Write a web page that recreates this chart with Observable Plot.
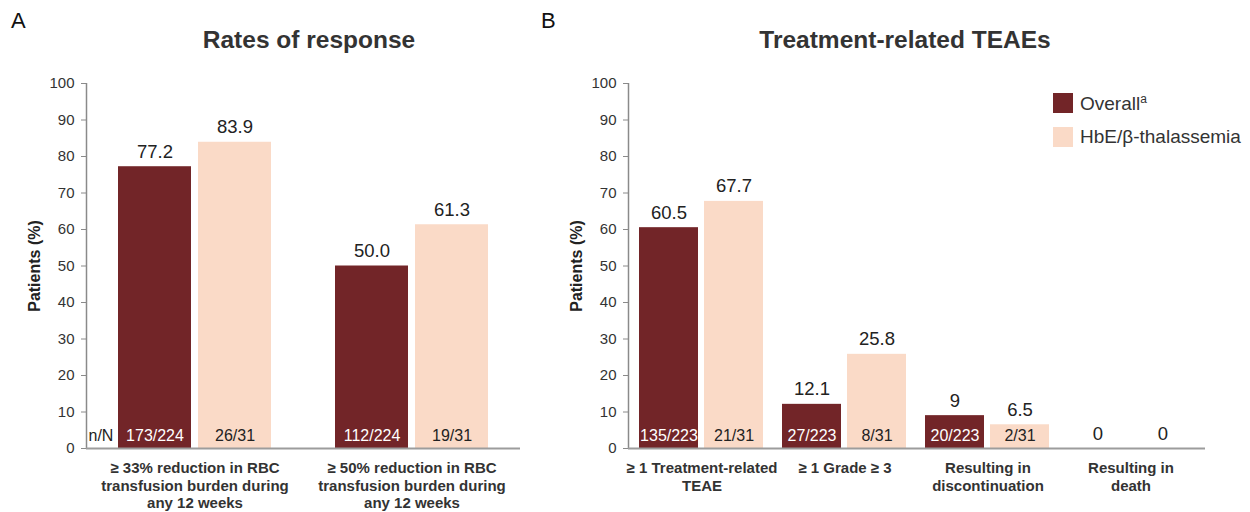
<!DOCTYPE html>
<html>
<head>
<meta charset="utf-8">
<script src="https://cdn.jsdelivr.net/npm/d3@7"></script>
<script src="https://cdn.jsdelivr.net/npm/@observablehq/plot@0.6"></script>
<style>
  html, body { margin: 0; padding: 0; background: #fff; }
  #wrap { position: relative; width: 1250px; height: 512px; overflow: hidden; font-family: "Liberation Sans", Arial, sans-serif; color: #222; }
  .abs { position: absolute; }
  .panel-letter { font-size: 22px; color: #111; }
  .title { font-size: 24.5px; font-weight: bold; color: #333; white-space: nowrap; transform: translateX(-50%); }
  .legend-item { display: flex; align-items: center; font-size: 19px; color: #333; height: 22px; }
  .swatch { width: 20px; height: 20px; margin-right: 7px; flex: none; }
  sup { font-size: 12px; vertical-align: 7px; }
</style>
</head>
<body>
<div id="wrap"></div>
<script>
// ---------- data ----------
const series = ["Overall", "HbE/β-thalassemia"];
const seriesColors = ["#722528", "#FADAC7"];

const groupsA = [
  "≥ 33% reduction in RBC\ntransfusion burden during\nany 12 weeks",
  "≥ 50% reduction in RBC\ntransfusion burden during\nany 12 weeks"
];
const overallA = [77.2, 50.0];
const hbeA = [83.9, 61.3];
const overallLabelsA = ["77.2", "50.0"];
const hbeLabelsA = ["83.9", "61.3"];
const overallNA = ["173/224", "112/224"];
const hbeNA = ["26/31", "19/31"];

const groupsB = [
  "≥ 1 Treatment-related\nTEAE",
  "≥ 1 Grade ≥ 3",
  "Resulting in\ndiscontinuation",
  "Resulting in\ndeath"
];
const overallB = [60.5, 12.1, 9, 0];
const hbeB = [67.7, 25.8, 6.5, 0];
const overallLabelsB = ["60.5", "12.1", "9", "0"];
const hbeLabelsB = ["67.7", "25.8", "6.5", "0"];
const overallNB = ["135/223", "27/223", "20/223", ""];
const hbeNB = ["21/31", "8/31", "2/31", ""];

const yTicks = [0, 10, 20, 30, 40, 50, 60, 70, 80, 90, 100];
const yLabel = "Patients (%)";

// ---------- helpers ----------
const FONT = "'Liberation Sans', Arial, sans-serif";

function rowsFor(groups, ov, hb, ovL, hbL, ovN, hbN) {
  const rows = [];
  groups.forEach((g, i) => {
    rows.push({group: g, series: series[0], value: ov[i], label: ovL[i], nN: ovN[i]});
    rows.push({group: g, series: series[1], value: hb[i], label: hbL[i], nN: hbN[i]});
  });
  return rows;
}

function panel({groups, rows, width, marginLeft, marginRight, fxPadIn, fxPadOut, xPad}) {
  return Plot.plot({
    width, height: 512, marginLeft, marginRight, marginTop: 83, marginBottom: 64,
    y: {domain: [0, 100], axis: null},
    style: {fontFamily: FONT, fontSize: "15px", color: "#222", background: "transparent"},
    fx: {domain: groups, paddingInner: fxPadIn, paddingOuter: fxPadOut, axis: null, label: null},
    x: {domain: series, paddingInner: xPad, paddingOuter: 0, axis: null, label: null},
    color: {domain: series, range: seriesColors},
    marks: [
      Plot.barY(rows, {fx: "group", x: "series", y: "value", fill: "series"}),
      Plot.text(rows, {fx: "group", x: "series", y: "value", text: "label",
        lineAnchor: "bottom", dy: -9, fontSize: 18.5, fill: "#222"}),
      Plot.text(rows.filter(d => d.series === series[0]), {fx: "group", x: "series", y: 0, text: "nN",
        lineAnchor: "middle", dy: -13, fontSize: 16, fill: "#fff"}),
      Plot.text(rows.filter(d => d.series === series[1]), {fx: "group", x: "series", y: 0, text: "nN",
        lineAnchor: "middle", dy: -13, fontSize: 16, fill: "#222"}),
      Plot.text(groups, {fx: d => d, text: d => d, frameAnchor: "bottom", lineAnchor: "top",
        dy: 12, fontSize: 15, fontWeight: "bold", lineHeight: 1.18, fill: "#333"})
    ]
  });
}

function overlay({width, marginLeft, marginRight, showNN}) {
  const marks = [
    Plot.ruleX([0], {y1: 0, y2: 100, stroke: "#8a8a8a", strokeWidth: 1.5}),
    Plot.axisY({ticks: yTicks, tickSize: 5, tickPadding: 7, fontSize: 15, stroke: "#8a8a8a", fill: "#333"}),
    Plot.ruleY([0], {stroke: "#9c9c9c", strokeWidth: 2}),
    Plot.text([yLabel], {text: d => d, frameAnchor: "left", textAnchor: "middle", rotate: -90, dx: -52,
      fontSize: 16, fontWeight: "bold", fill: "#222"})
  ];
  if (showNN) {
    marks.push(Plot.text(["n/N"], {text: d => d, frameAnchor: "bottom-left", textAnchor: "start",
      lineAnchor: "middle", dx: 2, dy: -13, fontSize: 16, fill: "#222"}));
  }
  return Plot.plot({
    width, height: 512, marginLeft, marginRight, marginTop: 83, marginBottom: 64,
    style: {fontFamily: FONT, fontSize: "15px", color: "#333", background: "transparent"},
    x: {domain: [0, 1], axis: null},
    y: {domain: [0, 100], axis: null, label: null},
    marks
  });
}

const wrap = document.getElementById("wrap");
function place(el, left, top) {
  el.style.position = "absolute";
  el.style.left = left + "px";
  el.style.top = top + "px";
  wrap.appendChild(el);
}

// Panel A
const rowsA = rowsFor(groupsA, overallA, hbeA, overallLabelsA, hbeLabelsA, overallNA, hbeNA);
place(panel({groups: groupsA, rows: rowsA, width: 540, marginLeft: 86, marginRight: 20,
  fxPadIn: 0.295, fxPadOut: 0.1475, xPad: 0.0875}), 0, 0);
place(overlay({width: 540, marginLeft: 86, marginRight: 20, showNN: true}), 0, 0);

// Panel B
const rowsB = rowsFor(groupsB, overallB, hbeB, overallLabelsB, hbeLabelsB, overallNB, hbeNB);
place(panel({groups: groupsB, rows: rowsB, width: 710, marginLeft: 88, marginRight: 45,
  fxPadIn: 0.125, fxPadOut: 0.07, xPad: 0.09}), 540, 0);
place(overlay({width: 710, marginLeft: 88, marginRight: 45, showNN: false}), 540, 0);

// Text decorations
function addDiv(cls, html, left, top) {
  const d = document.createElement("div");
  d.className = "abs " + cls;
  d.innerHTML = html;
  d.style.left = left + "px";
  d.style.top = top + "px";
  wrap.appendChild(d);
  return d;
}
addDiv("panel-letter", "A", 11, 8);
addDiv("panel-letter", "B", 541, 8);
addDiv("title", "Rates of response", 309, 26);
addDiv("title", "Treatment-related TEAEs", 905, 26);

const legend = document.createElement("div");
legend.className = "abs";
legend.style.left = "1053px";
legend.style.top = "92px";
const legendLabels = ["Overall<sup>a</sup>", "HbE/β-thalassemia"];
series.forEach((s, i) => {
  const item = document.createElement("div");
  item.className = "legend-item";
  item.style.marginBottom = i === 0 ? "12px" : "0";
  item.innerHTML = `<div class="swatch" style="background:${seriesColors[i]}"></div><span>${legendLabels[i]}</span>`;
  legend.appendChild(item);
});
wrap.appendChild(legend);
</script>
</body>
</html>
